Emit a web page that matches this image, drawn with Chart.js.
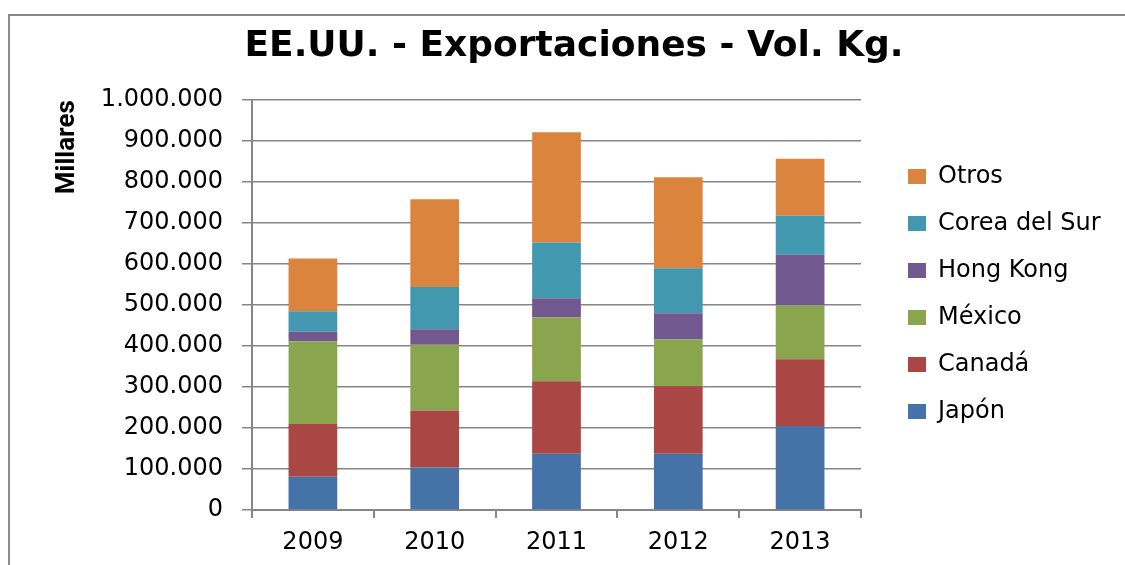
<!DOCTYPE html>
<html>
<head>
<meta charset="utf-8">
<title>EE.UU. - Exportaciones - Vol. Kg.</title>
<script src="https://cdn.jsdelivr.net/npm/chart.js@4.4.1/dist/chart.umd.min.js"></script>
<style>
    html, body { margin: 0; padding: 0; background: #ffffff; }
    #exportChart { display: block; }
</style>
</head>
<body>
<canvas id="exportChart" width="1125" height="565"></canvas>
<script>
const years = ["2009", "2010", "2011", "2012", "2013"];

const japon = [81000, 104000, 137000, 137000, 205000];
const canada = [129000, 139000, 177000, 165000, 163000];
const mexico = [202000, 160000, 156000, 114000, 131000];
const hongKong = [23000, 38000, 47000, 64000, 124000];
const coreaDelSur = [50000, 103000, 136000, 110000, 95000];
const otros = [129000, 214000, 269000, 222000, 139000];

const yTickLabels = [
    "0", "100.000", "200.000", "300.000", "400.000", "500.000",
    "600.000", "700.000", "800.000", "900.000", "1.000.000"
];

const colours = {
    japon: "#4572a7",
    canada: "#aa4643",
    mexico: "#89a54e",
    hongKong: "#71588f",
    corea: "#4198af",
    otros: "#db843d",
    line: "#868686",
    text: "#000000"
};

const LEGEND_WIDTH = 240;

const frameAndLegendPlugin = {
    id: "frameAndLegend",
    beforeLayout(chart) {
        const legend = chart.legend;
        if (!legend || legend.fixedWidth) {
            return;
        }
        const originalFit = legend.fit.bind(legend);
        legend.fit = function () {
            originalFit();
            this.width = LEGEND_WIDTH;
        };
        legend.fixedWidth = true;
    },
    afterLayout(chart) {
        const legend = chart.legend;
        if (!legend) {
            return;
        }
        legend.left += 24;
        legend.right += 24;
        legend.top -= 11;
        legend.bottom -= 11;
    },
    beforeDraw(chart) {
        const ctx = chart.ctx;
        ctx.save();
        ctx.fillStyle = "#ffffff";
        ctx.fillRect(0, 0, chart.width, chart.height);
        ctx.strokeStyle = "#8a8a8a";
        ctx.lineWidth = 2;
        ctx.strokeRect(9, 15, chart.width + 40, chart.height + 40);
        ctx.restore();
    }
};

function makeDataset(label, values, colour) {
    return {
        label,
        data: values,
        backgroundColor: colour,
        borderWidth: 0,
        barPercentage: 0.4,
        categoryPercentage: 1
    };
}

new Chart(document.getElementById("exportChart"), {
    type: "bar",
    data: {
        labels: years,
        datasets: [
            makeDataset("Japón", japon, colours.japon),
            makeDataset("Canadá", canada, colours.canada),
            makeDataset("México", mexico, colours.mexico),
            makeDataset("Hong Kong", hongKong, colours.hongKong),
            makeDataset("Corea del Sur", coreaDelSur, colours.corea),
            makeDataset("Otros", otros, colours.otros)
        ]
    },
    options: {
        responsive: false,
        devicePixelRatio: 1,
        animation: false,
        layout: {
            padding: { left: 47, right: 24, top: 10, bottom: 8 }
        },
        plugins: {
            title: {
                display: true,
                text: "EE.UU. - Exportaciones - Vol. Kg.",
                color: colours.text,
                font: { family: "'DejaVu Sans', sans-serif", size: 36, weight: "bold" },
                padding: { top: 15, bottom: 32 }
            },
            legend: {
                position: "right",
                fullSize: false,
                reverse: true,
                labels: {
                    color: colours.text,
                    font: { family: "'DejaVu Sans', sans-serif", size: 24 },
                    boxWidth: 18,
                    boxHeight: 15,
                    padding: 23
                }
            },
            tooltip: { enabled: false }
        },
        scales: {
            x: {
                stacked: true,
                afterFit(scale) {
                    scale.height = 47;
                },
                border: { color: colours.line, width: 2 },
                grid: {
                    offset: true,
                    drawOnChartArea: false,
                    tickLength: 8,
                    color: colours.line,
                    lineWidth: 2
                },
                ticks: {
                    color: colours.text,
                    padding: 10,
                    font: { family: "'DejaVu Sans', sans-serif", size: 24 }
                }
            },
            y: {
                stacked: true,
                min: 0,
                max: 1000000,
                afterFit(scale) {
                    scale.width = 205;
                },
                border: { color: colours.line, width: 2 },
                grid: {
                    color: colours.line,
                    lineWidth: 1.5,
                    tickLength: 10
                },
                ticks: {
                    stepSize: 100000,
                    color: colours.text,
                    padding: 19,
                    font: { family: "'DejaVu Sans', sans-serif", size: 24 },
                    callback: (value, index) => yTickLabels[index]
                },
                title: {
                    display: true,
                    text: "Millares",
                    align: "end",
                    color: colours.text,
                    padding: { top: 5, bottom: 4 },
                    font: { family: "Roboto, sans-serif", size: 26, weight: "bold" }
                }
            }
        }
    },
    plugins: [frameAndLegendPlugin]
});
</script>
</body>
</html>
